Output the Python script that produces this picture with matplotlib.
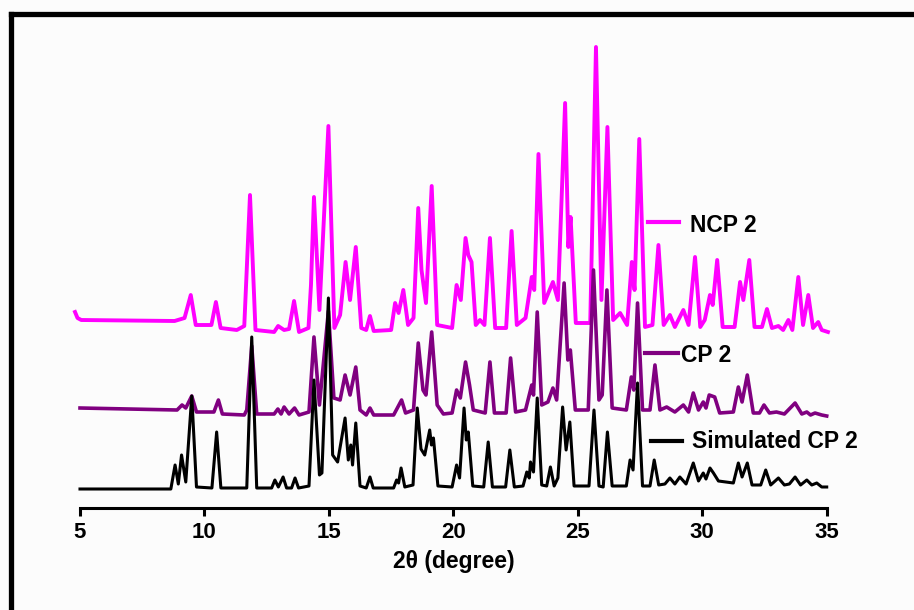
"""
Powder XRD comparison: NCP 2, CP 2 and the simulated CP 2 pattern,
stacked with vertical offsets on a shared 2-theta axis.
"""

import matplotlib.pyplot as plt
from matplotlib.lines import Line2D

plt.rcParams["font.family"] = ["Liberation Sans", "DejaVu Sans"]
plt.rcParams["font.weight"] = "bold"

# peak tops / valleys picked from the diffractograms (2theta in degree, intensity a.u.)
sim_2theta = [5.0, 8.65, 8.82, 8.95, 9.08, 9.25, 9.49, 9.68, 10.3, 10.49, 10.66, 11.7, 11.9, 12.1,
              12.7, 12.83, 12.97, 13.16, 13.3, 13.5, 13.64, 13.78, 14.2, 14.40, 14.62, 14.72, 14.98,
              15.15, 15.35, 15.65, 15.78, 15.88, 15.95, 16.08, 16.25, 16.5, 16.65, 16.78, 17.6,
              17.72, 17.8, 17.9, 18.05, 18.38, 18.55, 18.7, 18.85, 19.05, 19.12, 19.2, 19.38,
              19.95, 20.13, 20.25, 20.43, 20.52, 20.6, 20.78, 21.22, 21.4, 21.57, 22.1, 22.27,
              22.45, 22.8, 22.95, 23.05, 23.1, 23.22, 23.37, 23.55, 23.75, 23.9, 24.05, 24.2,
              24.39, 24.53, 24.68, 24.85, 25.45, 25.65, 25.85, 26.02, 26.19, 26.38, 26.95, 27.1,
              27.22, 27.4, 27.6, 27.9, 28.07, 28.25, 28.5, 28.7, 28.9, 29.1, 29.35, 29.64, 29.85,
              30.04, 30.15, 30.31, 30.45, 30.65, 31.25, 31.45, 31.6, 31.81, 32.0, 32.35, 32.55,
              32.75, 33.06, 33.3, 33.5, 33.73, 33.95, 34.2, 34.4, 34.6, 34.8, 35.0]
sim_int = [0, 0, 24, 5, 34, 7, 93, 2, 1, 57, 1, 1, 152, 1,
           1, 9, 2, 12, 1, 1, 11, 1, 3, 109, 14, 16, 191,
           34, 27, 71, 29, 44, 24, 66, 3, 1, 12, 1, 1,
           9, 6, 21, 2, 4, 81, 40, 34, 59, 44, 51, 3,
           2, 24, 11, 81, 49, 57, 3, 2, 47, 2, 2, 39,
           2, 3, 17, 11, 27, 17, 91, 4, 3, 22, 3, 11,
           82, 39, 67, 3, 3, 79, 3, 2, 57, 3, 3, 29,
           19, 106, 3, 3, 29, 4, 5, 11, 5, 12, 5, 26, 8,
           16, 10, 21, 16, 8, 6, 26, 12, 26, 4, 4, 19,
           4, 11, 4, 5, 12, 4, 9, 4, 6, 2, 2]

cp_2theta = [5.0, 8.9, 9.1, 9.25, 9.49, 9.68, 10.38, 10.56, 10.72, 11.6, 11.7, 11.9, 12.1, 12.8,
             12.95, 13.08, 13.2, 13.4, 13.62, 13.8, 14.2, 14.40, 14.62, 14.98, 15.2, 15.45,
             15.65, 15.85, 16.08, 16.25, 16.5, 16.65, 16.8, 17.6, 17.75, 17.92, 18.08, 18.4,
             18.59, 18.78, 18.9, 19.13, 19.35, 19.6, 19.95, 20.13, 20.28, 20.49, 20.65, 20.8,
             21.28, 21.47, 21.65, 22.12, 22.3, 22.5, 22.9, 23.15, 23.22, 23.37, 23.55, 23.8,
             24.0, 24.15, 24.45, 24.6, 24.7, 24.9, 25.42, 25.63, 25.85, 25.98, 26.17, 26.38,
             26.95, 27.15, 27.25, 27.4, 27.6, 27.9, 28.1, 28.3, 28.57, 28.9, 29.24, 29.45,
             29.64, 29.85, 30.04, 30.15, 30.28, 30.5, 30.7, 31.25, 31.45, 31.6, 31.81, 32.05, 32.3,
             32.48, 32.7, 32.98, 33.3, 33.73, 34.0, 34.2, 34.35, 34.53, 34.8, 35.0]
cp_int = [8, 6, 11, 8, 20, 4, 4, 16, 2, 1, 6, 70, 2, 2,
          7, 2, 9, 2, 8, 1, 4, 79, 11, 105, 18, 16,
          41, 21, 49, 6, 1, 8, 1, 1, 8, 16, 3, 6,
          73, 26, 21, 84, 11, 2, 3, 26, 18, 54, 31, 6,
          3, 54, 3, 3, 58, 4, 6, 31, 21, 104, 11, 14,
          28, 16, 133, 56, 66, 6, 6, 146, 16, 21, 126, 8,
          6, 39, 26, 113, 6, 6, 51, 6, 9, 4, 11, 4,
          23, 6, 14, 8, 21, 19, 3, 4, 29, 14, 41, 3, 3,
          11, 3, 4, 2, 13, 2, 4, 1, 3, 1, 0]

ncp_2theta = [4.8, 4.9, 5.05, 8.8, 9.2, 9.45, 9.65, 10.28, 10.46, 10.65, 11.3, 11.6, 11.83, 12.05,
              12.8, 12.96, 13.2, 13.4, 13.6, 13.8, 14.18, 14.28, 14.40, 14.62, 14.98, 15.22,
              15.45, 15.67, 15.85, 16.08, 16.3, 16.5, 16.65, 16.8, 17.5, 17.66, 17.8, 17.99,
              18.18, 18.4, 18.59, 18.72, 18.9, 19.13, 19.35, 19.95, 20.13, 20.3, 20.49, 20.6, 20.73,
              20.9, 21.07, 21.25, 21.47, 21.68, 22.12, 22.34, 22.55, 22.9, 23.15, 23.25, 23.42,
              23.65, 24.0, 24.2, 24.49, 24.62, 24.71, 24.92, 25.5, 25.73, 25.95, 26.19, 26.42,
              26.7, 26.98, 27.17, 27.28, 27.47, 27.7, 28.0, 28.24, 28.45, 28.7, 28.9, 29.24,
              29.45, 29.71, 29.92, 30.1, 30.31, 30.42, 30.6, 30.82, 31.3, 31.52, 31.65, 31.89,
              32.1, 32.4, 32.6, 32.8, 33.06, 33.25, 33.46, 33.62, 33.86, 34.05, 34.26, 34.45,
              34.66, 34.8, 35.05]
ncp_int = [16, 10, 8, 7, 10, 33, 3, 3, 26, 0, -2, 2, 133, -2,
           -4, 2, -2, -1, 27, -4, 0, 43, 131, 18, 202, 0,
           13, 66, 28, 81, 0, -2, 12, -3, -2, 25, 15, 38,
           3, 10, 120, 58, 25, 142, 3, 0, 43, 28, 90, 73, 66,
           3, 8, 3, 90, 0, 0, 97, 3, 10, 51, 38, 174,
           25, 46, 28, 225, 81, 111, 5, 5, 281, 28, 201, 8,
           15, 3, 66, 38, 189, 1, 3, 83, 3, 13, 1, 18,
           3, 71, 1, 8, 33, 23, 68, 1, 1, 46, 28, 68,
           1, 1, 19, 0, 2, -2, 8, -2, 51, 3, 33, 0,
           6, -2, -4]

# stacking offsets and styles, bottom trace first
traces = [
    ("Simulated CP 2", sim_2theta, sim_int, 19, "black", 2.2),
    ("CP 2", cp_2theta, cp_int, 92, "#800080", 2.6),
    ("NCP 2", ncp_2theta, ncp_int, 180, "#ff00ff", 2.8),
]

fig = plt.figure(figsize=(9.14, 6.10), dpi=100)
ax = fig.add_axes([80 / 914, 102 / 610, 746.7 / 914, 468 / 610])

zorders = {"NCP 2": 2, "CP 2": 3, "Simulated CP 2": 4}
for name, tth, inten, offset, color, lw in traces:
    ax.plot(tth, [v + offset for v in inten], color=color, lw=lw,
            solid_joinstyle="round", zorder=zorders[name], clip_on=False)

# inline labels with short line keys
label_pos = {
    "NCP 2": (0.7607, 0.8022, 0.611, 0.817, 0.590),
    "CP 2": (0.7567, 0.8009, 0.332, 0.805, 0.312),
    "Simulated CP 2": (0.7643, 0.8058, 0.144, 0.8196, 0.1276),
}
for name, _, _, _, color, _ in traces:
    x0, x1, yl, xt, yt = label_pos[name]
    ax.add_line(Line2D([x0, x1], [yl, yl], transform=ax.transAxes, color=color,
                       lw=3, clip_on=False))
    ax.text(xt, yt, name, transform=ax.transAxes, fontsize=16.5, fontweight="bold",
            va="baseline", ha="left")

ax.set_xlim(5, 35)
ax.set_ylim(0, 468)
ax.set_xticks(range(5, 36, 5))
ax.set_yticks([])
for side in ["left", "right", "top"]:
    ax.spines[side].set_visible(False)
ax.spines["bottom"].set_linewidth(2.2)
ax.tick_params(axis="x", direction="out", length=6, width=2.2, pad=4, labelsize=16)
for lbl in ax.get_xticklabels():
    lbl.set_fontweight("bold")
ax.set_xlabel("2θ (degree)", fontsize=16.5, fontweight="bold", labelpad=5)
ax.patch.set_alpha(0)

# heavy frame on the left and top edges
fig.add_artist(Line2D([10.5 / 914, 10.5 / 914], [0, 1 - 14 / 610], transform=fig.transFigure,
                      color="black", lw=3.8, solid_capstyle="projecting"))
fig.add_artist(Line2D([10.5 / 914, 1], [1 - 14 / 610, 1 - 14 / 610], transform=fig.transFigure,
                      color="black", lw=3.8, solid_capstyle="projecting"))

fig.savefig("out.png", dpi=100, facecolor="#fcfcfc")
